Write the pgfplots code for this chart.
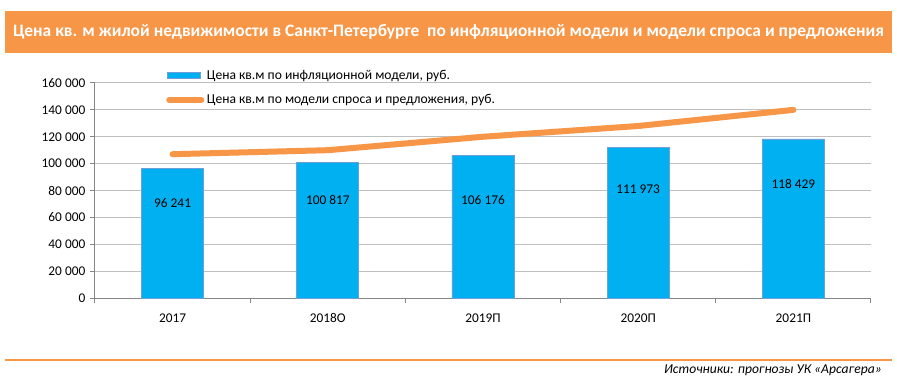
\documentclass[border=0pt]{standalone}
\usepackage{pgfplots}
\pgfplotsset{compat=1.18}
\usepackage{fontspec}
\setmainfont{Carlito}
\definecolor{barblue}{HTML}{00B0F0}
\definecolor{baredge}{HTML}{6F9FD8}
\definecolor{orng}{HTML}{F79646}
\definecolor{gridgray}{HTML}{BFBFBF}
\definecolor{axgray}{HTML}{868686}
\pgfkeys{/pgf/number format/.cd, fixed, precision=0, 1000 sep={\ }, assume math mode=true}
\begin{document}
\begin{tikzpicture}[x=0.75pt,y=0.75pt]
\useasboundingbox (0,0) rectangle (897,386);
\fill[white] (0,0) rectangle (897,386);
\fill[orng] (5,333) rectangle (892,375);
\node[text=white, font=\bfseries\fontsize{13.1}{15}\selectfont, inner sep=0pt] at (448.5,354.5) {Цена кв. м жилой недвижимости в Санкт-Петербурге\ \ по инфляционной модели и модели спроса и предложения};
\draw[orng, line width=1.1pt] (5,26) -- (892,26);
\node[anchor=east, font=\itshape\fontsize{10.2}{12}\selectfont, inner sep=0pt] at (882,16) {Источники: прогнозы УК «Арсагера»};
\begin{axis}[
  at={(71.25pt,66pt)}, anchor=south west,
  scale only axis, width=582pt, height=161.25pt,
  xmin=-0.5, xmax=4.5, ymin=0, ymax=160000,
  axis x line*=bottom, axis y line*=left,
  axis line style={axgray, line width=0.75pt},
  ytick={0,20000,40000,60000,80000,100000,120000,140000,160000},
  ymajorgrids, grid style={gridgray, line width=0.75pt},
  scaled y ticks=false,
  yticklabel={\pgfmathprintnumber[fixed, precision=0, 1000 sep={\ }, assume math mode=true]{\tick}},
  tick label style={font=\fontsize{10}{12}\selectfont, text=black},
  major tick length=3.75pt, tick align=outside,
  tick style={axgray, line width=0.75pt},
  xtick={-0.5,0.5,1.5,2.5,3.5,4.5}, xticklabels={},
  extra x ticks={0,1,2,3,4},
  extra x tick labels={2017,2018О,2019П,2020П,2021П},
  extra x tick style={major tick length=0pt, grid=none, xticklabel style={yshift=-8pt}},
  legend style={at={(0.0915,1.075)}, anchor=north west, draw=none, fill=none, inner sep=0pt,
    font=\fontsize{10.2}{12}\selectfont, row sep=6pt,
    /tikz/every even column/.append style={column sep=1pt}},
  legend cell align=left,
  clip=false,
]
\addplot[ybar, bar width=46.5pt, fill=barblue, draw=baredge, line width=0.5pt,
  legend image code/.code={\fill[barblue, draw=baredge, line width=0.4pt] (0pt,-2.25pt) rectangle (24.75pt,2.25pt);}]
  coordinates {(0,96241) (1,100817) (2,106176) (3,111973) (4,118429)};
\addlegendentry{Цена кв.м по инфляционной модели, руб.}
\addplot[orng, line width=4.5pt, line cap=round, line join=round, mark=none,
  legend image code/.code={\draw[orng, line width=4.5pt, line cap=round] (1.5pt,0pt) -- (25.5pt,0pt);}]
  coordinates {(0,107000) (1,110000) (2,120000) (3,128000) (4,140000)};
\addlegendentry{Цена кв.м по модели спроса и предложения, руб.}
\addplot[draw=none, mark=none, forget plot, point meta=explicit,
  nodes near coords={\pgfmathprintnumber[fixed, precision=0, 1000 sep={\ }, assume math mode=true]{\pgfplotspointmeta}},
  every node near coord/.append style={anchor=center, font=\fontsize{10}{12}\selectfont, text=black}]
  table[x=x, y=y, meta=v] {
x y v
0 70900 96241
1 72600 100817
2 72600 106176
3 81000 111973
4 84600 118429
};
\end{axis}
\end{tikzpicture}
\end{document}
